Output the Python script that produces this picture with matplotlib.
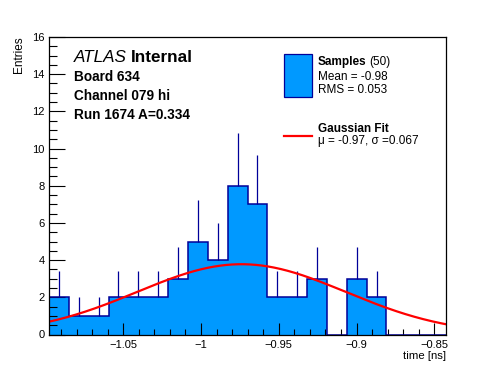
import numpy as np
import matplotlib
matplotlib.use("Agg")
import matplotlib.pyplot as plt
from matplotlib.patches import Rectangle
from matplotlib.lines import Line2D
from matplotlib.ticker import MultipleLocator, FuncFormatter

plt.rcParams['font.family'] = ['Liberation Sans', 'DejaVu Sans']

# histogram: 20 bins between xmin and xmax
xmin, xmax = -1.0977, -0.8425
counts = [2, 1, 1, 2, 2, 2, 3, 5, 4, 8, 7, 2, 2, 3, 0, 3, 2, 0, 0, 0]
# gaussian fit parameters
fit_mu = -0.974
fit_sigma = 0.067
fit_amp = 3.78

header_lines = ["Board 634", "Channel 079 hi", "Run 1674 A=0.334"]
xticks = [-1.05, -1.0, -0.95, -0.9, -0.85]

W, H = 496, 372
fig = plt.figure(figsize=(W / 100, H / 100), dpi=100)
ax = fig.add_axes([49 / W, 1 - 334.5 / H, (446 - 49) / W, (334.5 - 37) / H])

def px(x, y):
    return (x / W, 1 - y / H)

counts = np.array(counts, dtype=float)
edges = np.linspace(xmin, xmax, len(counts) + 1)
centers = 0.5 * (edges[:-1] + edges[1:])

fill_col = "#0099ff"
edge_col = "#000099"

ax.stairs(counts, edges, fill=True, color=fill_col, zorder=1)
ax.stairs(counts, edges, baseline=0, fill=False, color=edge_col, lw=1.1, zorder=2)
nz = counts > 0
ax.vlines(centers[nz], counts[nz], counts[nz] + np.sqrt(counts[nz]),
          color=edge_col, lw=0.9, zorder=2)

xf = np.linspace(xmin, xmax, 400)
yf = fit_amp * np.exp(-0.5 * ((xf - fit_mu) / fit_sigma) ** 2)
ax.plot(xf, yf, color="red", lw=1.6, zorder=3)

ax.set_xlim(xmin, xmax)
ax.set_ylim(0, 16)
ax.set_xticks(xticks)
ax.xaxis.set_minor_locator(MultipleLocator(0.01))
ax.yaxis.set_major_locator(MultipleLocator(2))
ax.yaxis.set_minor_locator(MultipleLocator(0.5))
ax.xaxis.set_major_formatter(FuncFormatter(lambda v, p: ("%g" % v).replace("-", "\u2212")))
ax.tick_params(which="both", direction="in", top=False, right=False, width=0.8,
               labelsize=8, colors="black")
ax.tick_params(axis="x", which="major", length=8.5, pad=4)
ax.tick_params(axis="x", which="minor", length=4.5)
ax.tick_params(axis="y", which="major", length=11.5, pad=3)
ax.tick_params(axis="y", which="minor", length=6)
for s in ax.spines.values():
    s.set_linewidth(0.9)
    s.set_zorder(5)

fig.text(*px(446, 356), "time [ns]", ha="right", va="center", fontsize=8.2)
fig.text(*px(19, 36), "Entries", rotation=90, ha="center", va="top", fontsize=8.5)

# ATLAS label
t = fig.text(*px(74, 58), "ATLAS", style="italic", fontsize=12.3, va="center")
fig.canvas.draw()
bb = t.get_window_extent()
fig.text(bb.x1 / W + 4 / W, 1 - 58 / H, "Internal", weight="bold", fontsize=12.3, va="center")
for i, s in enumerate(header_lines):
    fig.text(*px(74, 77 + 19.2 * i), s, weight="bold", fontsize=9.8, va="center")

# legend
fig.add_artist(Rectangle(px(283.5, 96.5), 28 / W, 43 / H, transform=fig.transFigure,
                         facecolor=fill_col, edgecolor=edge_col, lw=0.9))
t = fig.text(*px(318, 62), "Samples", weight="bold", fontsize=8.5, va="center")
fig.canvas.draw()
bb = t.get_window_extent()
fig.text(bb.x1 / W + 3 / W, 1 - 62 / H, "(%d)" % 50, fontsize=8.5, va="center")
fig.text(*px(318, 77), "Mean = -0.98", fontsize=8.5, va="center")
fig.text(*px(318, 90), "RMS = 0.053", fontsize=8.5, va="center")
fig.add_artist(Line2D([283.5 / W, 312 / W], [1 - 136 / H] * 2, transform=fig.transFigure,
                      color="red", lw=1.6))
fig.text(*px(318, 129), "Gaussian Fit", weight="bold", fontsize=8.5, va="center")
fig.text(*px(318, 141), "\u03bc = -0.97, \u03c3 =0.067", fontsize=8.5, va="center")

fig.savefig("out.png", dpi=100)
